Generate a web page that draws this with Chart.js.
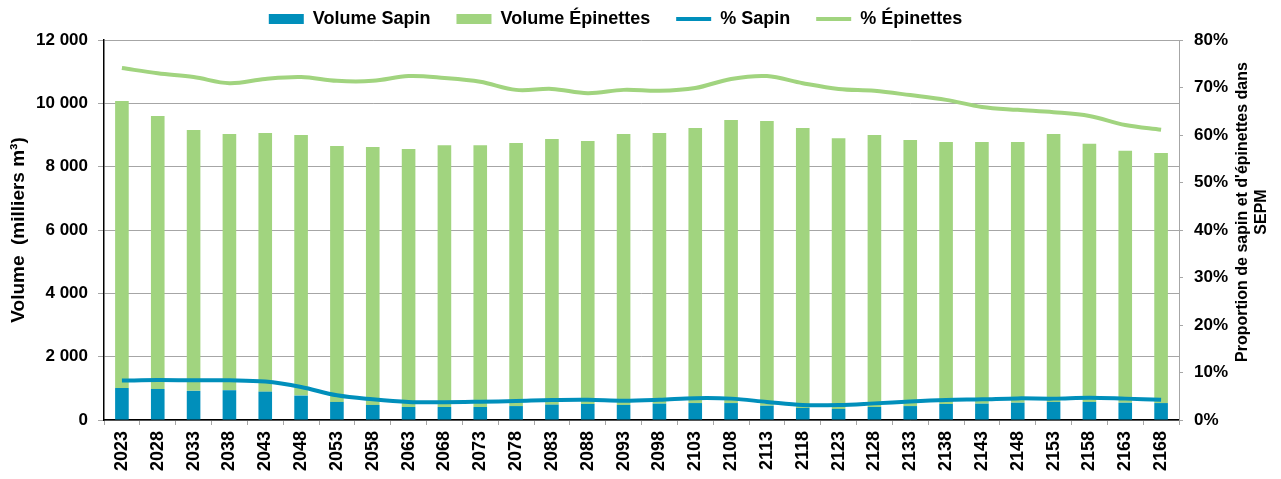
<!DOCTYPE html>
<html>
<head>
<meta charset="utf-8">
<script src="https://cdn.jsdelivr.net/npm/chart.js@4"></script>
<style>
  body { margin: 0; background: #fff; }
  #wrap { width: 1281px; height: 479px; }
</style>
</head>
<body>
<div id="wrap"><canvas id="volumes" width="1281" height="479"></canvas></div>
<script>
const annees = ['2023','2028','2033','2038','2043','2048','2053','2058','2063','2068',
  '2073','2078','2083','2088','2093','2098','2103','2108','2113','2118',
  '2123','2128','2133','2138','2143','2148','2153','2158','2163','2168'];

// milliers de m3
const volSapin = [1010,980,920,940,895,770,570,475,410,410,
  410,440,485,505,475,515,535,535,450,380,
  350,410,440,505,515,545,570,570,545,535];
const volEpinettes = [9060,8620,8240,8090,8165,8230,8080,8145,8150,8270,
  8270,8310,8385,8305,8555,8545,8685,8935,8990,8840,
  8550,8590,8400,8275,8265,8235,8460,8150,7955,7895];

// % du volume SEPM
const pctSapin = [8.3,8.4,8.35,8.35,8.1,6.95,5.2,4.35,3.8,3.75,
  3.85,4.0,4.2,4.25,4.05,4.25,4.6,4.5,3.8,3.15,
  3.15,3.5,3.9,4.2,4.35,4.55,4.5,4.7,4.5,4.25];
const pctEpinettes = [74.1,73.0,72.2,70.9,71.8,72.2,71.4,71.4,72.4,72.0,
  71.2,69.5,69.7,68.8,69.5,69.3,69.9,71.8,72.4,70.9,
  69.7,69.3,68.4,67.4,65.9,65.3,64.8,64.0,62.1,61.1];

const bleu = '#008FBB';
const vert = '#A1D47F';
const gris = '#A6A6A6';

Chart.defaults.font.family = '"Liberation Sans", Arial, sans-serif';
Chart.defaults.font.weight = 'bold';
Chart.defaults.color = '#000';

function milliers(v) {
  return String(v).replace(/\B(?=(\d{3})+(?!\d))/g, ' ');
}

// titre de l'axe de droite, lu de bas en haut comme celui de gauche
const titreDroite = {
  id: 'titreDroite',
  afterDraw(chart) {
    const c = chart.ctx;
    c.save();
    c.font = 'bold 16px "Liberation Sans", Arial, sans-serif';
    c.fillStyle = '#000';
    c.textAlign = 'center';
    c.textBaseline = 'middle';
    c.translate(1243, 212);
    c.rotate(-Math.PI / 2);
    c.fillText("Proportion de sapin et d'épinettes dans", 0, 0);
    c.fillText('SEPM', 0, 19);
    c.restore();
  }
};

const ctx = document.getElementById('volumes').getContext('2d');
new Chart(ctx, {
  type: 'bar',
  data: {
    labels: annees,
    datasets: [
      { label: 'Volume Sapin', data: volSapin, backgroundColor: bleu, yAxisID: 'y',
        barPercentage: 0.38, categoryPercentage: 1, order: 2, pointStyle: 'rect' },
      { label: 'Volume Épinettes', data: volEpinettes, backgroundColor: vert, yAxisID: 'y',
        barPercentage: 0.38, categoryPercentage: 1, order: 2, pointStyle: 'rect' },
      { type: 'line', label: '% Sapin', data: pctSapin, borderColor: bleu, backgroundColor: bleu,
        borderWidth: 4, pointRadius: 0, tension: 0.35, yAxisID: 'y1', order: 1, pointStyle: 'line' },
      { type: 'line', label: '% Épinettes', data: pctEpinettes, borderColor: vert, backgroundColor: vert,
        borderWidth: 4, pointRadius: 0, tension: 0.35, yAxisID: 'y1', order: 1, pointStyle: 'line' }
    ]
  },
  options: {
    responsive: false,
    animation: false,
    // marge gauche négative : la légende se centre un peu à gauche comme l'original
    layout: { padding: { top: -16, left: -50, right: 0, bottom: 0 } },
    plugins: {
      legend: {
        position: 'top',
        labels: {
          usePointStyle: true,
          pointStyleWidth: 35,
          boxHeight: 10,
          padding: 26,
          font: { size: 18, weight: 'bold' },
          sort: (a, b) => a.datasetIndex - b.datasetIndex
        }
      },
      // titre vide, juste un petit espace entre la légende et le graphique
      title: { display: true, text: '', weight: 500, padding: 0, font: { size: 2, lineHeight: 1 } },
      tooltip: { enabled: false }
    },
    scales: {
      x: {
        stacked: true,
        grid: { offset: true, drawOnChartArea: false, color: gris, tickLength: 5 },
        border: { color: '#000', width: 1.5 },
        ticks: { autoSkip: false, minRotation: 90, maxRotation: 90, padding: 6,
          font: { size: 18, weight: 'bold' } },
        afterFit: s => { s.height = 59; }
      },
      y: {
        stacked: true,
        position: 'left',
        min: 0, max: 12000,
        grid: { color: gris, tickLength: 6 },
        border: { color: '#000', width: 1.5 },
        ticks: { stepSize: 2000, padding: 10, callback: v => milliers(v),
          font: { size: 17, weight: 'bold' } },
        title: { display: true, text: 'Volume  (milliers m³)', padding: { top: 57 },
          font: { size: 19, weight: 'bold' } },
        afterFit: s => { s.width = 154; }
      },
      y1: {
        position: 'right',
        min: 0, max: 80,
        grid: { drawOnChartArea: false, color: gris, tickLength: 4 },
        border: { color: gris, width: 1 },
        ticks: { stepSize: 10, padding: 11, callback: v => v + '%',
          font: { size: 17, weight: 'bold' } },
        afterFit: s => { s.width = 102; }
      }
    }
  },
  plugins: [titreDroite]
});
</script>
</body>
</html>
